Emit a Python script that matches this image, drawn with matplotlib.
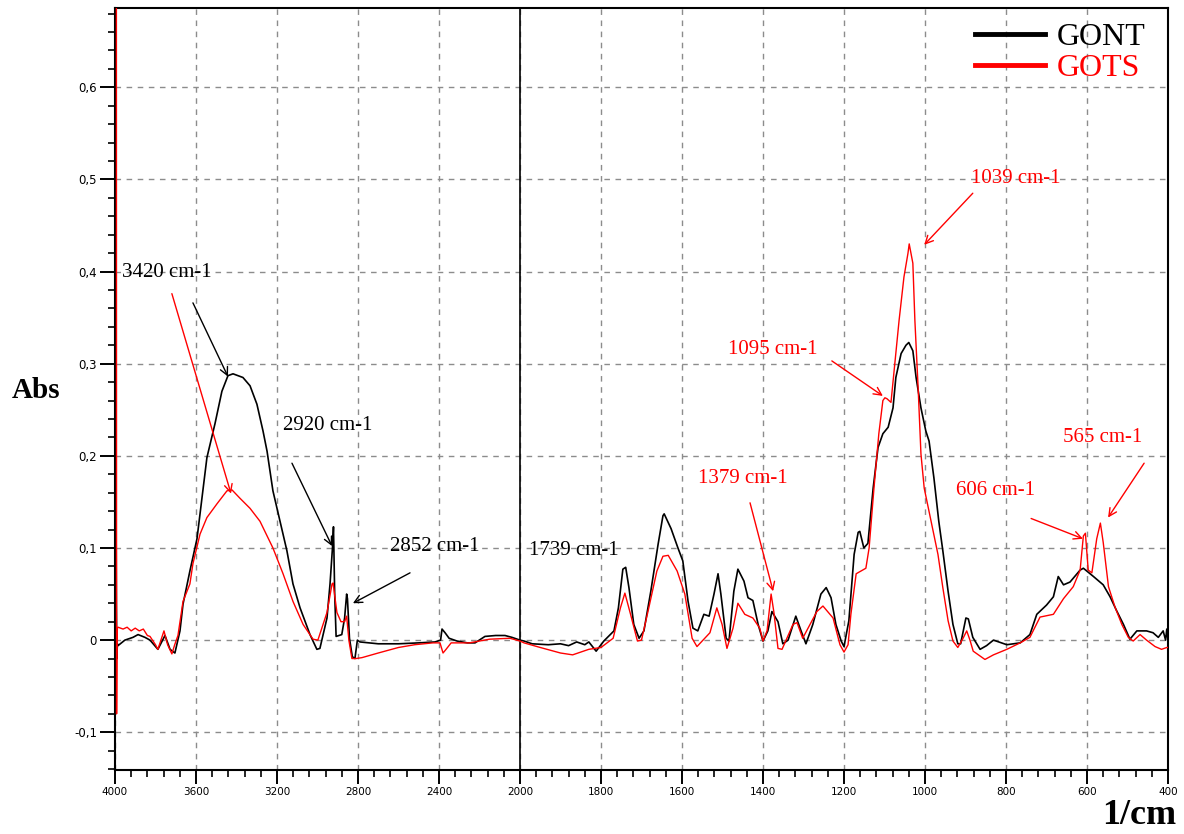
"""FTIR absorbance spectra of GONT and GOTS with the main band assignments."""
import numpy as np
import matplotlib
matplotlib.use("Agg")
import matplotlib.pyplot as plt
from matplotlib.lines import Line2D

# ---- spectra (wavenumber in cm-1, absorbance) ----
GONT_WN = [3995, 3993, 3991, 3988, 3985, 3951, 3911, 3886, 3852, 3827, 3788, 3753, 3728, 3704,
           3679, 3664, 3630, 3595, 3546, 3506, 3472, 3442, 3417, 3368, 3333, 3299, 3269, 3249,
           3220, 3185, 3151, 3121, 3086, 3037, 3003, 2988, 2953, 2938, 2926, 2921, 2915, 2908,
           2880, 2866, 2856, 2852, 2842, 2828, 2815, 2803, 2790, 2700, 2600, 2500, 2420, 2392,
           2385, 2370, 2350, 2311, 2260, 2222, 2173, 2120, 2074, 2040, 2000,
           1990, 1970, 1930, 1900, 1880, 1860, 1840, 1830, 1812, 1793, 1768, 1757, 1746, 1739,
           1731, 1719, 1706, 1694, 1677, 1659, 1647, 1644, 1627, 1610, 1598, 1585, 1573, 1561,
           1546, 1533, 1521, 1511, 1504, 1491, 1484, 1472, 1462, 1447, 1437, 1425, 1412, 1400,
           1388, 1378, 1363, 1351, 1338, 1319, 1306, 1294, 1277, 1257, 1244, 1232, 1220, 1207,
           1200, 1188, 1175, 1165, 1161, 1151, 1141, 1128, 1116, 1104, 1091, 1079, 1072, 1059,
           1047, 1040, 1030, 1022, 1010, 998, 990, 978, 966, 956, 943, 931, 919, 912, 899, 893,
           882, 864, 848, 831, 798, 765, 741, 724, 700, 683, 671, 658, 642, 617, 609, 584, 560,
           543, 527, 510, 494, 477, 453, 437, 424, 412, 406, 403, 400]
GONT_ABS = [0.16, 0.04, -0.02, -0.004, -0.006, 0.0, 0.003, 0.006, 0.003, 0.0, -0.01, 0.005, -0.01, -0.014,
            0.01, 0.039, 0.075, 0.11, 0.198, 0.235, 0.27, 0.287, 0.289, 0.285, 0.276, 0.256, 0.227, 0.205,
            0.162, 0.129, 0.097, 0.061, 0.035, 0.006, -0.01, -0.009, 0.024, 0.061, 0.10, 0.123, 0.05, 0.004,
            0.006, 0.024, 0.05, 0.045, 0.002, -0.018, -0.02, 0.0, -0.002, -0.004, -0.004, -0.003, -0.002, 0.0,
            0.012, 0.008, 0.002, -0.001, -0.003, -0.003, 0.004, 0.005, 0.005, 0.003, 0.0,
            -0.001, -0.004, -0.005, -0.004, -0.006, -0.002, -0.005, -0.002, -0.012, -0.001, 0.01, 0.035, 0.077, 0.079,
            0.057, 0.017, 0.002, 0.01, 0.053, 0.104, 0.135, 0.137, 0.121, 0.1, 0.086, 0.042, 0.013, 0.01,
            0.028, 0.026, 0.05, 0.072, 0.05, 0.002, -0.001, 0.053, 0.077, 0.064, 0.046, 0.043, 0.017, -0.001,
            0.01, 0.031, 0.02, -0.004, 0.0, 0.026, 0.01, -0.004, 0.017, 0.05, 0.057, 0.046, 0.017, -0.001,
            -0.007, 0.021, 0.093, 0.117, 0.118, 0.1, 0.105, 0.165, 0.209, 0.224, 0.231, 0.252, 0.285, 0.311,
            0.32, 0.323, 0.314, 0.285, 0.252, 0.227, 0.216, 0.176, 0.129, 0.097, 0.053, 0.017, -0.004, -0.004, 0.024, 0.023,
            0.003, -0.01, -0.006, 0.0, -0.005, -0.003, 0.006, 0.028, 0.038, 0.047, 0.069, 0.06, 0.063, 0.076, 0.078, 0.069, 0.06,
            0.047, 0.032, 0.017, 0.001, 0.01, 0.01, 0.008, 0.003, 0.01, 0.0, 0.012, 0.0]

GOTS_WN = [3993, 3992, 3990, 3988, 3985, 3960, 3940, 3920, 3900, 3880, 3860, 3840, 3827, 3800,
           3788, 3758, 3740, 3719, 3705, 3689, 3679, 3664, 3630, 3615, 3580, 3546, 3496, 3447,
           3422, 3383, 3333, 3284, 3220, 3170, 3121, 3071, 3022, 2998, 2953, 2928, 2923, 2904,
           2884, 2866, 2856, 2845, 2830, 2810, 2780, 2700, 2600, 2520, 2430, 2395, 2380, 2365,
           2340, 2250, 2150, 2050, 2000,
           1990, 1950, 1900, 1870, 1830, 1800, 1770, 1752, 1741, 1727, 1710, 1700, 1684, 1662,
           1647, 1634, 1612, 1593, 1575, 1563, 1548, 1531, 1514, 1501, 1489, 1474, 1462, 1445,
           1425, 1408, 1400, 1390, 1380, 1373, 1363, 1353, 1326, 1316, 1302, 1267, 1252, 1227,
           1210, 1200, 1190, 1183, 1170, 1158, 1146, 1138, 1126, 1114, 1104, 1099, 1094, 1084,
           1077, 1064, 1052, 1042, 1039, 1030, 1025, 1017, 1010, 1002, 985, 968, 956, 943, 931,
           919, 906, 897, 889, 881, 852, 831, 798, 765, 741, 716, 683, 658, 634, 617, 609, 604,
           597, 588, 576, 567, 560, 547, 531, 514, 498, 486, 469, 453, 432, 416, 403, 400]
GOTS_ABS = [0.75, -0.08, 0.0, 0.013, 0.014, 0.012, 0.014, 0.01, 0.013, 0.01, 0.012, 0.005, 0.004, -0.005,
            -0.01, 0.01, -0.005, -0.015, -0.005, 0.005, 0.02, 0.042, 0.061, 0.083, 0.115, 0.133, 0.148, 0.162,
            0.163, 0.154, 0.143, 0.129, 0.1, 0.072, 0.042, 0.017, 0.001, 0.0, 0.03, 0.061, 0.062, 0.03,
            0.02, 0.02, 0.026, 0.0, -0.02, -0.02, -0.019, -0.014, -0.008, -0.005, -0.003, -0.003, -0.014, -0.01,
            -0.003, -0.003, 0.001, 0.002, -0.001,
            -0.003, -0.008, -0.014, -0.016, -0.01, -0.008, 0.002, 0.035, 0.051, 0.028, -0.001, 0.0, 0.031, 0.075,
            0.091, 0.092, 0.075, 0.05, 0.002, -0.007, 0.0, 0.008, 0.035, 0.017, -0.009, 0.013, 0.04, 0.028,
            0.024, 0.013, -0.001, 0.01, 0.05, 0.03, -0.009, -0.01, 0.017, 0.019, 0.002, 0.031, 0.037, 0.024,
            -0.005, -0.013, -0.005, 0.028, 0.072, 0.075, 0.078, 0.1, 0.165, 0.224, 0.26, 0.263, 0.262, 0.258,
            0.289, 0.347, 0.394, 0.42, 0.43, 0.409, 0.347, 0.274, 0.202, 0.165, 0.129, 0.093, 0.057, 0.021, -0.001,
            -0.008, 0.002, 0.01, 0.0, -0.012, -0.021, -0.016, -0.01, -0.003, 0.003, 0.025, 0.028, 0.045, 0.058, 0.076, 0.113, 0.116,
            0.076, 0.073, 0.11, 0.127, 0.106, 0.058, 0.036, 0.017, 0.003, -0.001, 0.006, 0.0, -0.007, -0.01, -0.008, -0.008]

SERIES_NAMES = ["GONT", "GOTS"]
SERIES_COLORS = ["black", "#ff0000"]

# band labels: text, colour and anchor (wn, abs); arrows: colour, tail, head
BAND_TEXT = ["3420 cm-1", "2920 cm-1", "2852 cm-1", "1739 cm-1", "1379 cm-1",
             "1095 cm-1", "1039 cm-1", "606 cm-1", "565 cm-1"]
BAND_COLOR = ["black", "black", "black", "black", "red", "red", "red", "red", "red"]
BAND_POS = [(3965, 0.399), (3170, 0.233), (2642, 0.102), (1978, 0.097), (1560, 0.175),
            (1486, 0.315), (886, 0.501), (924, 0.162), (659, 0.220)]
ARROW_COLOR = ["black", "red", "black", "black", "red", "red", "red", "red", "red"]
ARROW_TAIL = [(3615, 0.366), (3719, 0.376), (3126, 0.192), (2543, 0.073), (1432, 0.149),
              (1230, 0.303), (882, 0.485), (738, 0.132), (459, 0.192)]
ARROW_HEAD = [(3442, 0.286), (3427, 0.159), (2928, 0.102), (2825, 0.040), (1375, 0.053),
              (1104, 0.265), (1002, 0.429), (610, 0.110), (548, 0.133)]

X_MAJOR = [4000, 3600, 3200, 2800, 2400, 2000, 1800, 1600, 1400, 1200, 1000, 800, 600, 400]
Y_MAJOR = [-0.1, 0.0, 0.1, 0.2, 0.3, 0.4, 0.5, 0.6]
Y_LABELS = ["-0,1", "0", "0,1", "0,2", "0,3", "0,4", "0,5", "0,6"]


# wavenumber axis is compressed 2x above 2000 cm-1
def fwd(w):
    w = np.asarray(w, dtype=float)
    return np.where(w <= 2000, w / 200.0, 10 + (w - 2000) / 400.0)


def inv(u):
    u = np.asarray(u, dtype=float)
    return np.where(u <= 10, u * 200.0, 2000 + (u - 10) * 400.0)


SERIF = ["Liberation Serif", "DejaVu Serif"]

fig = plt.figure(figsize=(11.84, 8.34), dpi=100)
ax = fig.add_axes([0.0971, 0.0767, 0.8894, 0.9137])
ax.set_xscale("function", functions=(fwd, inv))
ax.set_xlim(4000, 400)
ax.set_ylim(-0.141, 0.686)

ax.set_xticks(X_MAJOR)
ax.set_xticks(list(np.arange(3920, 2000, -80)) + list(np.arange(1960, 400, -40)), minor=True)
ax.set_xticklabels([str(v) for v in X_MAJOR])
ax.set_yticks(Y_MAJOR)
ax.set_yticks(np.arange(-0.14, 0.69, 0.02), minor=True)
ax.set_yticklabels(Y_LABELS)

ax.grid(True, which="major", color="#8c8c8c", ls=(0, (4, 4)), lw=1.0)
ax.set_axisbelow(True)
ax.axvline(2000, color="black", lw=1.2, zorder=1.5)

ax.tick_params(which="major", direction="out", width=1.4, pad=2)
ax.tick_params(axis="y", which="major", length=11, labelsize=8.5)
ax.tick_params(axis="x", which="major", length=10, labelsize=7.5)
ax.tick_params(which="minor", direction="out", length=5, width=1.2)
for sp in ax.spines.values():
    sp.set_linewidth(1.5)

ax.plot(GONT_WN, GONT_ABS, color=SERIES_COLORS[0], lw=1.2, zorder=3)
ax.plot(GOTS_WN, GOTS_ABS, color=SERIES_COLORS[1], lw=1.0, zorder=3)

for txt, col, (x, y) in zip(BAND_TEXT, BAND_COLOR, BAND_POS):
    ax.text(x, y, txt, color=col, fontsize=15, family=SERIF, ha="left", va="center", zorder=4)
for col, tail, head in zip(ARROW_COLOR, ARROW_TAIL, ARROW_HEAD):
    ax.annotate("", xy=head, xytext=tail,
                arrowprops=dict(arrowstyle="->", color=col, lw=1.0, mutation_scale=14,
                                shrinkA=0, shrinkB=0), zorder=4)

handles = [Line2D([], [], color=c, lw=3.5) for c in SERIES_COLORS]
leg = ax.legend(handles, SERIES_NAMES, loc="upper right", bbox_to_anchor=(0.992, 1.0),
                frameon=False, handlelength=2.2, handletextpad=0.35, labelspacing=0.05,
                borderaxespad=0.05, prop={"family": SERIF, "size": 23})
for t, c in zip(leg.get_texts(), SERIES_COLORS):
    t.set_color(c)

fig.text(12 / 1184, 1 - 390 / 834, "Abs", family=SERIF, fontsize=21, fontweight="bold",
         ha="left", va="center")
fig.text(1176 / 1184, 1 - 815 / 834, "1/cm", family=SERIF, fontsize=26, fontweight="bold",
         ha="right", va="center")

fig.savefig("out.png", dpi=100)
